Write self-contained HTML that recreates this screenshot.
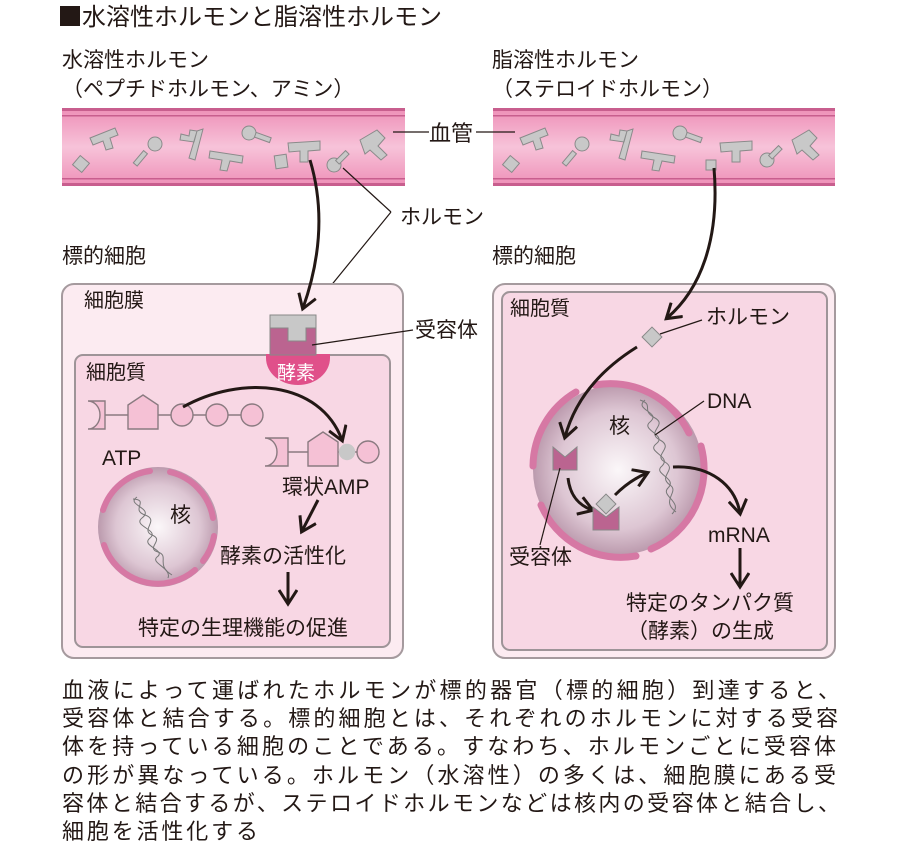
<!DOCTYPE html>
<html><head><meta charset="utf-8"><style>
html,body{margin:0;padding:0;background:#fff}
svg{display:block}
text{font-family:"Liberation Sans","Noto Sans CJK JP",sans-serif;fill:#231815}
</style></head><body>
<svg width="900" height="844" viewBox="0 0 900 844" xmlns="http://www.w3.org/2000/svg">
<defs>
<linearGradient id="vg" x1="0" y1="0" x2="0" y2="1">
<stop offset="0" stop-color="#ee8fb7"/><stop offset="0.5" stop-color="#f7c3d9"/><stop offset="1" stop-color="#ee8fb7"/>
</linearGradient>
<radialGradient id="ng" cx="0.5" cy="0.5" r="0.5">
<stop offset="0" stop-color="#fbf7f9"/><stop offset="0.7" stop-color="#ddc6d3"/><stop offset="1" stop-color="#bb9aad"/>
</radialGradient>
<marker id="ahb" markerWidth="20" markerHeight="20" refX="14" refY="10" orient="auto" markerUnits="userSpaceOnUse">
<path d="M1,1 L15,10 L1,19" fill="none" stroke="#231815" stroke-width="3"/>
</marker>
</defs>

<rect x="60" y="6" width="20" height="20" fill="#231815"/>
<text x="82" y="25" font-size="24">水溶性ホルモンと脂溶性ホルモン</text>
<text x="62" y="67" font-size="21">水溶性ホルモン</text>
<text x="62" y="96" font-size="21">（ペプチドホルモン、アミン）</text>
<text x="492" y="67" font-size="21">脂溶性ホルモン</text>
<text x="492" y="96" font-size="21">（ステロイドホルモン）</text>

<g>
<rect x="62" y="108" width="343" height="78" fill="url(#vg)"/>
<rect x="62" y="108" width="343" height="3" fill="#c85e8e"/><rect x="62" y="115" width="343" height="1.5" fill="#c85e8e"/>
<rect x="62" y="183" width="343" height="3" fill="#c85e8e"/><rect x="62" y="178" width="343" height="1.5" fill="#c85e8e"/>
<rect x="493" y="108" width="342" height="78" fill="url(#vg)"/>
<rect x="493" y="108" width="342" height="3" fill="#c85e8e"/><rect x="493" y="115" width="342" height="1.5" fill="#c85e8e"/>
<rect x="493" y="183" width="342" height="3" fill="#c85e8e"/><rect x="493" y="178" width="342" height="1.5" fill="#c85e8e"/>
</g>
<g fill="#c8c8c8" stroke="#8a8a8a" stroke-width="1">
<rect x="75" y="158" width="12" height="12" transform="rotate(40 81 164)"/>
<path d="M90,138 L115,128 L118,135 L110,138 L113,148 L106,150 L103,141 L93,145Z"/>
<circle cx="155" cy="144" r="7"/><rect x="138" y="150" width="5" height="16" transform="rotate(40 140 158)"/>
<path d="M190,130 L197,131 L194,142 L180,140 L181,134 L189,136Z M197,131 L203,129 L195,160 L189,158Z"/>
<path d="M210,151 L243,156 L242,163 L230,161 L227,171 L220,170 L222,160 L209,158Z"/>
<rect x="275" y="155" width="12" height="13" transform="rotate(-8 281 161)"/>
<path d="M288,143 L320,141 L320,150 L308,151 L308,162 L300,162 L300,151 L289,152Z"/>
<circle cx="334" cy="165" r="7"/><rect x="340" y="150" width="5" height="14" transform="rotate(45 342 157)"/>
<circle cx="249" cy="133" r="7"/><rect x="255" y="135" width="16" height="5" transform="rotate(20 263 137)"/>
<path d="M360,140 L377,130 L385,138 L378,146 L387,155 L381,160 L370,150 L365,154Z"/>
<rect x="505" y="158" width="12" height="12" transform="rotate(40 511 164)"/>
<path d="M520,138 L545,128 L548,135 L540,138 L543,148 L536,150 L533,141 L523,145Z"/>
<circle cx="582" cy="144" r="7"/><rect x="567" y="150" width="5" height="16" transform="rotate(40 569 158)"/>
<path d="M620,130 L627,131 L624,142 L610,140 L611,134 L619,136Z M627,131 L633,129 L625,160 L619,158Z"/>
<path d="M642,151 L675,156 L674,163 L662,161 L659,171 L652,170 L654,160 L641,158Z"/>
<circle cx="680" cy="133" r="7"/><rect x="686" y="135" width="16" height="5" transform="rotate(20 694 137)"/>
<rect x="706" y="160" width="10" height="10"/>
<path d="M720,143 L752,141 L752,150 L740,151 L740,162 L732,162 L732,151 L721,152Z"/>
<circle cx="767" cy="160" r="7"/><rect x="773" y="145" width="5" height="14" transform="rotate(45 775 152)"/>
<path d="M792,140 L809,130 L817,138 L810,146 L819,155 L813,160 L802,150 L797,154Z"/>
</g>
<line x1="393" y1="132" x2="429" y2="132" stroke="#231815" stroke-width="1.2"/>
<line x1="476" y1="132" x2="515" y2="132" stroke="#231815" stroke-width="1.2"/>
<text x="429" y="141" font-size="22">血管</text>

<text x="400" y="224" font-size="21">ホルモン</text>
<path d="M391,212 L343,168 M391,212 L303,320" stroke="#231815" stroke-width="1.2" fill="none"/>

<text x="62" y="263" font-size="21">標的細胞</text>
<text x="492" y="263" font-size="21">標的細胞</text>

<rect x="62" y="284" width="341" height="374" rx="12" fill="#fcebf1" stroke="#a59a9e" stroke-width="2"/>
<text x="84" y="307" font-size="20">細胞膜</text>
<rect x="75" y="355" width="315" height="292" rx="8" fill="#f8d7e4" stroke="#9e9498" stroke-width="2"/>
<text x="86" y="379" font-size="20">細胞質</text>
<path d="M266,354 L330,354 L330,358 A32,27 0 0 1 266,358Z" fill="#e0508a"/>
<text x="277" y="379" font-size="19" style="fill:#fff">酵素</text>
<rect x="270" y="315" width="46" height="40" fill="#bb6490" stroke="#888" stroke-width="1"/>
<path d="M270,315 L316,315 L316,328 L306,328 L306,341 L288,341 L288,328 L270,328Z" fill="#c8c8c8" stroke="#888" stroke-width="1"/>
<path d="M310,160 C325,210 320,260 303,308" stroke="#231815" stroke-width="3" fill="none" marker-end="url(#ahb)"/>

<g fill="#f5c1d5" stroke="#8a7a80" stroke-width="1.4">
<line x1="105" y1="415" x2="252" y2="415"/>
<path d="M88,401 L105,401 L105,429 L88,429 A12,14 0 0 0 88,401Z"/>
<path d="M128,405 L143,395 L158,405 L158,429 L128,429Z"/>
<circle cx="182" cy="415" r="11"/><circle cx="217" cy="415" r="11"/><circle cx="252" cy="415" r="11"/>
<line x1="288" y1="452" x2="368" y2="452"/>
<path d="M265,438 L288,438 L288,466 L265,466 A12,14 0 0 0 265,438Z"/>
<path d="M308,442 L323,432 L338,442 L338,466 L308,466Z"/>
<circle cx="347" cy="452" r="7.5" fill="#c8c8c8" stroke="#c8c8c8"/>
<circle cx="368" cy="452" r="11"/>
</g>
<path d="M183,407 C240,375 320,380 342,440" stroke="#231815" stroke-width="3" fill="none" marker-end="url(#ahb)"/>
<text x="102" y="465" font-size="21">ATP</text>
<text x="282" y="494" font-size="21">環状AMP</text>
<line x1="318" y1="500" x2="302" y2="531" stroke="#231815" stroke-width="3" marker-end="url(#ahb)"/>
<text x="220" y="563" font-size="21">酵素の活性化</text>
<line x1="288" y1="572" x2="288" y2="603" stroke="#231815" stroke-width="3" marker-end="url(#ahb)"/>
<text x="138" y="635" font-size="21">特定の生理機能の促進</text>

<circle cx="158" cy="527" r="60" fill="url(#ng)"/>
<g stroke="#d678a4" stroke-width="6" fill="none" stroke-linecap="round">
<path d="M103,510 A57,57 0 0 1 150,471"/>
<path d="M170,472 A57,57 0 0 1 213,518"/>
<path d="M214,536 A57,57 0 0 1 203,561"/>
<path d="M195,570 A57,57 0 0 1 104,545"/>
</g>
<path d="M133,499 C150,500 130,510 145,515 C160,520 140,530 152,535 C165,540 145,548 158,552 C170,556 155,565 172,575" stroke="#777" stroke-width="1" fill="none"/>
<path d="M137,497 C125,505 155,508 142,518 C132,526 160,530 150,538 C140,546 167,550 157,557 C150,563 172,568 168,578" stroke="#777" stroke-width="1" fill="none"/>
<text x="170" y="522" font-size="21">核</text>

<rect x="493" y="284" width="342" height="374" rx="12" fill="#fcebf1" stroke="#a59a9e" stroke-width="2"/>
<rect x="502" y="292" width="325" height="358" rx="8" fill="#f8d7e4" stroke="#9e9498" stroke-width="2"/>
<text x="510" y="315" font-size="20">細胞質</text>
<path d="M714,168 C720,240 700,290 667,318" stroke="#231815" stroke-width="3" fill="none" marker-end="url(#ahb)"/>
<rect x="645" y="330" width="14" height="14" transform="rotate(45 652 337)" fill="#c8c8c8" stroke="#888"/>
<line x1="660" y1="334" x2="702" y2="320" stroke="#231815" stroke-width="1.2"/>
<text x="706" y="324" font-size="21">ホルモン</text>

<circle cx="618" cy="470" r="85" fill="url(#ng)"/>
<g stroke="#d678a4" stroke-width="7" fill="none" stroke-linecap="round">
<path d="M576,392 A87,87 0 0 0 533,466"/>
<path d="M595,385 A87,87 0 0 1 689,433"/>
<path d="M701,446 A87,87 0 0 1 651,549"/>
<path d="M636,556 A87,87 0 0 1 541,505"/>
</g>
<path d="M640,400 C655,405 640,410 655,418 C668,425 645,432 660,440 C675,448 652,455 665,462 C678,470 657,476 670,485 C680,492 660,500 676,512" stroke="#777" stroke-width="1" fill="none"/>
<path d="M645,400 C633,410 662,412 650,422 C640,430 668,435 656,444 C646,452 672,456 662,466 C652,474 678,478 668,488 C660,496 684,502 672,514" stroke="#777" stroke-width="1" fill="none"/>
<text x="609" y="433" font-size="21">核</text>
<text x="707" y="408" font-size="21">DNA</text>
<line x1="704" y1="401" x2="655" y2="435" stroke="#231815" stroke-width="1.2"/>

<path d="M637,347 C600,370 575,400 565,437" stroke="#231815" stroke-width="3" fill="none" marker-end="url(#ahb)"/>
<path d="M553,447 L565,457 L577,447 L577,470 L553,470Z" fill="#bb6490" stroke="#888"/>
<path d="M568,478 C570,495 578,505 592,510" stroke="#231815" stroke-width="3" fill="none" marker-end="url(#ahb)"/>
<path d="M593,507 L606,517 L619,507 L619,530 L593,530Z" fill="#bb6490" stroke="#888"/>
<rect x="599" y="497" width="14" height="14" transform="rotate(45 606 504)" fill="#c8c8c8" stroke="#888"/>
<path d="M615,495 C625,485 635,478 647,473" stroke="#231815" stroke-width="3" fill="none" marker-end="url(#ahb)"/>
<path d="M673,467 C710,465 735,485 740,513" stroke="#231815" stroke-width="3" fill="none" marker-end="url(#ahb)"/>
<text x="708" y="542" font-size="21">mRNA</text>
<line x1="740" y1="548" x2="740" y2="586" stroke="#231815" stroke-width="3" marker-end="url(#ahb)"/>
<text x="626" y="610" font-size="21">特定のタンパク質</text>
<text x="627" y="638" font-size="21">（酵素）の生成</text>
<line x1="560" y1="468" x2="540" y2="545" stroke="#231815" stroke-width="1.2"/>
<text x="509" y="564" font-size="21">受容体</text>

<line x1="312" y1="345" x2="413" y2="330" stroke="#231815" stroke-width="1.2"/>
<text x="415" y="337" font-size="21">受容体</text>

<g font-size="22">
<text x="62" y="698" textLength="778" lengthAdjust="spacing">血液によって運ばれたホルモンが標的器官（標的細胞）到達すると、</text>
<text x="62" y="726" textLength="776" lengthAdjust="spacing">受容体と結合する。標的細胞とは、それぞれのホルモンに対する受容</text>
<text x="62" y="754" textLength="774" lengthAdjust="spacing">体を持っている細胞のことである。すなわち、ホルモンごとに受容体</text>
<text x="62" y="783" textLength="774" lengthAdjust="spacing">の形が異なっている。ホルモン（水溶性）の多くは、細胞膜にある受</text>
<text x="62" y="811" textLength="778" lengthAdjust="spacing">容体と結合するが、ステロイドホルモンなどは核内の受容体と結合し、</text>
<text x="62" y="839" textLength="196" lengthAdjust="spacing">細胞を活性化する</text>
</g>
</svg>
</body></html>
